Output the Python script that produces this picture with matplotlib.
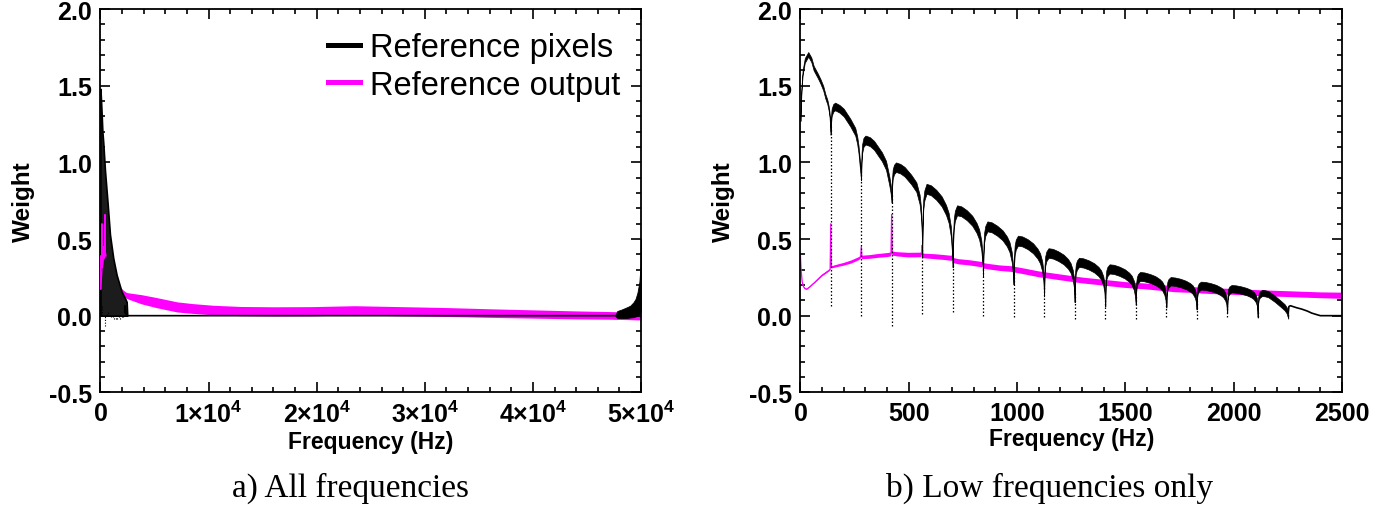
import numpy as np
import matplotlib
matplotlib.use('Agg')
import matplotlib.pyplot as plt
from matplotlib.ticker import MultipleLocator
from matplotlib.lines import Line2D

# ---------------- data ----------------
# black "Reference pixels": arches between the dips (Hz, weight at top of noisy band)
arch_freq = [
    [0, 2, 5, 10, 20, 36, 50, 61, 80, 92, 105, 115, 124, 130, 134, 139],
    [139, 141, 144, 151, 160, 180, 200, 230, 253, 262, 268, 274, 278, 280],
    [280, 282, 285, 291, 300, 320, 340, 376, 395, 403, 410, 416, 421],
    [421, 423, 426, 432, 441, 461, 481, 511, 535, 550, 557, 560, 562],
    [562, 564, 567, 572, 582, 602, 627, 652, 672, 684, 694, 699, 703],
    [703, 705, 708, 713, 723, 743, 768, 793, 813, 825, 835, 840, 843],
    [843, 845, 848, 853, 863, 883, 908, 933, 953, 965, 975, 980, 984],
    [984, 986, 989, 994, 1004, 1024, 1049, 1074, 1094, 1106, 1116, 1121, 1125],
    [1125, 1127, 1130, 1135, 1145, 1165, 1190, 1215, 1235, 1247, 1257, 1262, 1266],
    [1266, 1268, 1271, 1276, 1286, 1306, 1331, 1356, 1376, 1388, 1398, 1403, 1407],
    [1407, 1409, 1412, 1417, 1427, 1447, 1472, 1497, 1517, 1529, 1539, 1544, 1548],
    [1548, 1550, 1553, 1558, 1568, 1588, 1613, 1638, 1658, 1670, 1680, 1685, 1689],
    [1689, 1691, 1694, 1699, 1709, 1729, 1754, 1779, 1799, 1811, 1821, 1826, 1829],
    [1829, 1831, 1834, 1839, 1849, 1869, 1894, 1919, 1939, 1951, 1961, 1966, 1970],
    [1970, 1972, 1975, 1980, 1990, 2010, 2035, 2060, 2080, 2092, 2102, 2107, 2111],
    [2111, 2113, 2116, 2121, 2131, 2145, 2160, 2190, 2215, 2235, 2245, 2252],
]
arch_top = [
    [1.30, 1.40, 1.50, 1.60, 1.68, 1.72, 1.685, 1.63, 1.58, 1.545, 1.50, 1.446, 1.41, 1.37, 1.33, 1.23],
    [1.23, 1.30, 1.35, 1.38, 1.39, 1.375, 1.35, 1.285, 1.225, 1.17, 1.11, 1.02, 0.96, 0.94],
    [0.94, 1.06, 1.12, 1.16, 1.175, 1.165, 1.14, 1.066, 1.01, 0.957, 0.91, 0.86, 0.80],
    [0.80, 0.90, 0.955, 0.985, 1.0, 0.99, 0.97, 0.92, 0.87, 0.79, 0.70, 0.60, 0.45],
    [0.45, 0.645, 0.757, 0.817, 0.86, 0.851, 0.821, 0.778, 0.722, 0.671, 0.585, 0.49, 0.38],
    [0.38, 0.54, 0.634, 0.684, 0.72, 0.713, 0.688, 0.652, 0.605, 0.562, 0.49, 0.41, 0.32],
    [0.32, 0.461, 0.541, 0.584, 0.615, 0.609, 0.587, 0.557, 0.517, 0.48, 0.418, 0.351, 0.27],
    [0.27, 0.392, 0.459, 0.496, 0.522, 0.517, 0.499, 0.472, 0.438, 0.407, 0.355, 0.298, 0.19],
    [0.19, 0.33, 0.387, 0.418, 0.44, 0.436, 0.42, 0.398, 0.37, 0.343, 0.299, 0.251, 0.15],
    [0.15, 0.284, 0.333, 0.359, 0.378, 0.374, 0.361, 0.342, 0.318, 0.295, 0.257, 0.215, 0.12],
    [0.12, 0.251, 0.295, 0.318, 0.335, 0.332, 0.32, 0.303, 0.281, 0.261, 0.228, 0.191, 0.13],
    [0.13, 0.214, 0.251, 0.271, 0.285, 0.282, 0.272, 0.258, 0.239, 0.222, 0.194, 0.162, 0.11],
    [0.11, 0.189, 0.222, 0.239, 0.252, 0.249, 0.241, 0.228, 0.212, 0.197, 0.171, 0.144, 0.095],
    [0.095, 0.167, 0.195, 0.211, 0.222, 0.22, 0.212, 0.201, 0.186, 0.173, 0.151, 0.127, 0.065],
    [0.065, 0.15, 0.176, 0.19, 0.2, 0.198, 0.191, 0.181, 0.168, 0.156, 0.136, 0.114, 0.035],
    [0.035, 0.12, 0.145, 0.158, 0.168, 0.166, 0.16, 0.13, 0.10, 0.075, 0.054, 0.02],
]
arch_spread = [0.03, 0.05, 0.058, 0.062, 0.065, 0.065, 0.065, 0.065, 0.063, 0.06,
               0.06, 0.058, 0.055, 0.052, 0.048, 0.04]

# sparse samples dropping to zero at each dip
dip_freq = [139, 280, 421, 562, 703, 843, 984, 1125, 1266, 1407, 1548, 1689, 1829, 1970, 2111, 2252]
dip_level = [1.23, 0.94, 0.80, 0.45, 0.38, 0.32, 0.27, 0.19, 0.15, 0.12, 0.13, 0.11, 0.095, 0.065, 0.035, 0.02]
dip_bottom = [0.06, 0.0, -0.07, 0.01, 0.025, 0.0, -0.01, -0.01, -0.02, -0.02, -0.02, -0.01, -0.02, -0.01, -0.01, 0.0]

# black tail after the last arch and flat zero level
tail_freq = [2252, 2255, 2262, 2290, 2314, 2340, 2360, 2383, 2400, 47600]
tail_val = [0.02, 0.06, 0.065, 0.052, 0.043, 0.03, 0.017, 0.007, 0.0, 0.0]

# black envelope as it appears in the all-frequency panel
left_black_freq = [0, 90, 180, 260, 416, 666, 880, 1184, 1497, 1960, 2300, 2423, 2480]
left_black_top = [1.48, 1.35, 1.2, 1.13, 0.95, 0.73, 0.53, 0.376, 0.266, 0.156, 0.11, 0.09, 0.0]

# black rise near the Nyquist end
alias_freq = [47600, 47800, 48200, 48700, 49000, 49300, 49500, 49670, 49850, 49950, 50000]
alias_top = [0.0, 0.03, 0.04, 0.055, 0.065, 0.087, 0.11, 0.15, 0.22, 0.32, 0.5]
alias_bottom = [0.0, -0.015, -0.015, -0.015, -0.012, -0.01, -0.005, 0.0, 0.01, 0.02, 0.03]

# magenta "Reference output": centre of band and band thickness
mag_freq = [0, 3, 8, 14, 20, 29, 45, 67, 98, 128, 137,
            140, 143, 170, 200, 235, 267, 278,
            281, 284, 320, 360, 405, 418,
            421, 424, 450, 500, 552, 560,
            562, 565, 620, 660, 698, 701,
            703, 706, 729, 780, 837, 841,
            843, 846, 867, 920, 975, 1036,
            1100, 1200, 1300, 1400, 1500, 1600,
            1729, 1800, 1900, 2000, 2100, 2200,
            2300, 2400, 2500,
            3800, 5200, 7100, 8500, 10400, 13000,
            16000, 19500, 23500, 27800, 32000, 36000,
            40000, 44000, 47000, 50000]
mag_val = [0.39, 0.30, 0.22, 0.19, 0.178, 0.172, 0.19, 0.218, 0.26, 0.29, 0.30,
           0.60, 0.315, 0.325, 0.335, 0.35, 0.37, 0.38,
           0.45, 0.38, 0.383, 0.39, 0.396, 0.40,
           0.66, 0.405, 0.40, 0.395, 0.396, 0.40,
           0.46, 0.39, 0.385, 0.38, 0.374, 0.38,
           0.41, 0.36, 0.352, 0.345, 0.333, 0.335,
           0.36, 0.325, 0.32, 0.31, 0.304, 0.288,
           0.27, 0.25, 0.23, 0.215, 0.2, 0.19,
           0.172, 0.168, 0.16, 0.155, 0.148, 0.143,
           0.138, 0.133, 0.13,
           0.107, 0.085, 0.057, 0.047, 0.037, 0.03,
           0.028, 0.029, 0.035, 0.029, 0.024, 0.017,
           0.011, 0.005, 0.002, -0.003]
mag_width = [0.006, 0.006, 0.006, 0.006, 0.008, 0.008, 0.008, 0.01, 0.012, 0.012, 0.012,
             0.006, 0.014, 0.016, 0.018, 0.02, 0.02, 0.02,
             0.01, 0.022, 0.024, 0.025, 0.026, 0.026,
             0.01, 0.026, 0.028, 0.03, 0.03, 0.03,
             0.014, 0.03, 0.032, 0.032, 0.033, 0.033,
             0.016, 0.033, 0.034, 0.034, 0.035, 0.035,
             0.02, 0.035, 0.036, 0.036, 0.037, 0.038,
             0.038, 0.038, 0.038, 0.038, 0.038, 0.038,
             0.038, 0.038, 0.038, 0.038, 0.038, 0.038,
             0.038, 0.038, 0.04,
             0.06, 0.066, 0.066, 0.064, 0.062, 0.06,
             0.06, 0.06, 0.06, 0.06, 0.058, 0.056,
             0.054, 0.052, 0.05, 0.05]

legend_labels = ['Reference pixels', 'Reference output']
left_xticks = [0, 10000, 20000, 30000, 40000, 50000]
left_xticklabels = ['0', r'1$\times$10$^{\mathregular{4}}$', r'2$\times$10$^{\mathregular{4}}$',
                    r'3$\times$10$^{\mathregular{4}}$', r'4$\times$10$^{\mathregular{4}}$',
                    r'5$\times$10$^{\mathregular{4}}$']
right_xticks = [0, 500, 1000, 1500, 2000, 2500]
yticks = [-0.5, 0.0, 0.5, 1.0, 1.5, 2.0]
captions = ['a) All frequencies', 'b) Low frequencies only']

# ---------------- style ----------------
plt.rcParams['font.family'] = ['Liberation Sans', 'DejaVu Sans']
plt.rcParams['mathtext.fontset'] = 'custom'
plt.rcParams['mathtext.rm'] = 'Liberation Sans:bold'
plt.rcParams['mathtext.it'] = 'Liberation Sans:bold'
MAG = '#ff00ff'

fig = plt.figure(figsize=(13.95, 5.06), dpi=100)
axL = fig.add_axes([0.0720, 0.2227, 0.3875, 0.7573])
axR = fig.add_axes([0.5738, 0.2227, 0.3882, 0.7573])


def draw_magenta(ax, z, upto=None):
    f = np.array(mag_freq, float)
    v = np.array(mag_val)
    w = np.array(mag_width)
    if upto is not None:
        keep = f <= upto
        f, v, w = f[keep], v[keep], w[keep]
    ax.fill_between(f, v - w / 2, v + w / 2, color=MAG, lw=0, zorder=z)
    ax.plot(f, v, color=MAG, lw=0.9, zorder=z)


# ---- left panel: all frequencies ----
draw_magenta(axL, 1.5)
axL.fill_between(left_black_freq, 0, left_black_top, color='#1c1c1c', lw=1.2,
                 edgecolor='black', zorder=2)
axL.vlines(dip_freq, dip_bottom, 0, colors='black', lw=0.8, linestyles=(0, (1, 1.5)),
           zorder=2)
draw_magenta(axL, 3, upto=500)
axL.plot(tail_freq, tail_val, color='black', lw=1.2, zorder=2.5)
axL.fill_between(alias_freq, alias_bottom, alias_top, color='black', lw=0.6,
                 edgecolor='black', zorder=4)

# ---- right panel: low frequencies ----
draw_magenta(axR, 2)
for fr, tp, sp in zip(arch_freq, arch_top, arch_spread):
    tp = np.array(tp)
    axR.fill_between(fr, tp - sp, tp, color='black', lw=0.5, edgecolor='black', zorder=3)
axR.vlines(dip_freq, dip_bottom, dip_level, colors='black', lw=0.9,
           linestyles=(0, (1.2, 1.6)), zorder=3)
axR.plot(tail_freq, tail_val, color='black', lw=1.2, zorder=3)

for ax in (axL, axR):
    ax.set_ylim(-0.5, 2.0)
    ax.set_yticks(yticks)
    ax.set_yticklabels(['%.1f' % t for t in yticks], fontweight='bold')
    ax.yaxis.set_minor_locator(MultipleLocator(0.1))
    ax.tick_params(which='both', direction='in', top=True, right=True, width=1.2,
                   labelsize=18)
    ax.tick_params(which='major', length=7.5, pad=6)
    ax.tick_params(which='minor', length=3.8)
    for s in ax.spines.values():
        s.set_linewidth(1.3)
    ax.set_ylabel('Weight', fontsize=17.5, fontweight='bold', labelpad=10)
    ax.set_xlabel('Frequency (Hz)', fontsize=16.5, fontweight='bold', labelpad=2)

axL.set_xlim(0, 50000)
axL.set_xticks(left_xticks)
axL.set_xticklabels(left_xticklabels, fontweight='bold')
axL.xaxis.set_minor_locator(MultipleLocator(2000))

axR.set_xlim(0, 2500)
axR.set_xticks(right_xticks)
axR.set_xticklabels([str(t) for t in right_xticks], fontweight='bold')
axR.xaxis.set_minor_locator(MultipleLocator(100))

handles = [Line2D([], [], color='black', lw=3.6), Line2D([], [], color=MAG, lw=3.6)]
leg = axL.legend(handles, legend_labels, loc='upper left', bbox_to_anchor=(0.372, 1.008),
                 frameon=False, handlelength=1.0, handletextpad=0.3,
                 labelspacing=0.2, borderpad=0.3,
                 prop={'family': 'Liberation Sans', 'size': 23.5})

fig.text(350 / 1395, 1 - 488 / 506, captions[0], ha='center', va='center',
         fontsize=24, family='Liberation Serif')
fig.text(1050 / 1395, 1 - 488 / 506, captions[1], ha='center', va='center',
         fontsize=24, family='Liberation Serif')

fig.savefig('out.png', dpi=100)
